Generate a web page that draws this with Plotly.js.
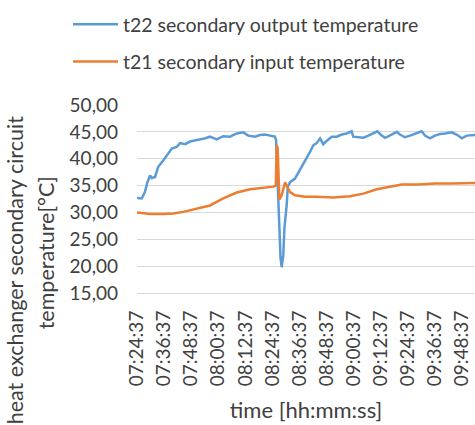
<!DOCTYPE html>
<html>
<head>
<meta charset="utf-8">
<script src="https://cdn.plot.ly/plotly-3.0.1.min.js"></script>
<style>
  html, body { margin: 0; padding: 0; background: #ffffff; overflow: hidden; }
  #chart { width: 475px; height: 425px; }
</style>
</head>
<body>
<div id="chart"></div>
<script>
// ---- data ----
const day = '2024-01-01 ';

const tickLabels = ['07:24:37','07:36:37','07:48:37','08:00:37','08:12:37','08:24:37','08:36:37',
                    '08:48:37','09:00:37','09:12:37','09:24:37','09:36:37','09:48:37'];

const t22Name = 't22 secondary output temperature';
const t22Times = ['07:24:37','07:26:43','07:28:07','07:29:13','07:30:25','07:31:07','07:32:37','07:34:01',
  '07:36:19','07:38:31','07:40:01','07:42:13','07:43:43','07:45:55','07:48:07','07:51:07','07:54:01',
  '07:56:55','07:59:55','08:02:49','08:05:49','08:08:49','08:11:43','08:13:55','08:16:55','08:19:07',
  '08:21:19','08:23:31','08:25:43','08:26:13','08:26:55','08:27:31','08:28:13','08:28:43','08:29:25',
  '08:29:55','08:30:13','08:30:31','08:30:55','08:31:25','08:32:25','08:34:37','08:36:49','08:39:01',
  '08:41:19','08:42:43','08:44:13','08:45:43','08:47:07','08:48:37','08:50:55','08:53:07','08:55:19',
  '08:57:31','08:59:43','09:00:25','09:02:37','09:04:55','09:07:07','09:09:19','09:11:07','09:13:01',
  '09:14:31','09:17:25','09:19:43','09:21:07','09:23:19','09:25:37','09:28:31','09:30:43','09:32:13',
  '09:34:25','09:36:37','09:38:49','09:41:07','09:44:01','09:46:13','09:48:31','09:50:43','09:53:37',
  '09:56:07'];
const t22Values = [32.7,32.6,33.8,35.6,36.9,36.4,36.6,38.5,
  39.7,41.0,41.9,42.2,42.9,42.7,43.2,43.5,43.7,
  44.1,43.6,44.2,44.1,44.7,44.9,44.3,44.1,44.4,
  44.5,44.3,44.1,43.5,35.0,27.0,21.5,19.8,22.0,
  27.0,28.2,29.5,31.3,34.8,35.6,36.3,37.9,39.7,
  41.3,42.5,42.9,43.8,42.7,43.3,44.1,44.1,44.5,
  44.7,45.1,44.1,44.0,43.9,44.3,44.7,45.1,44.3,
  43.9,44.5,45.0,44.5,44.0,44.3,44.7,45.1,44.3,
  43.8,44.3,44.6,44.7,44.9,44.5,43.8,44.3,44.4,
  44.5];

const t21Name = 't21 secondary input temperature';
const t21Times = ['07:24:37','07:30:25','07:36:19','07:40:43','07:45:07','07:51:07','07:56:55','08:02:49',
  '08:08:49','08:14:43','08:20:37','08:25:01','08:26:07','08:26:19','08:26:31','08:26:55','08:27:13',
  '08:27:43','08:28:43','08:29:55','08:30:13','08:30:55','08:32:25','08:34:37','08:39:01','08:44:13',
  '08:51:37','08:59:01','09:04:55','09:10:49','09:16:43','09:21:55','09:29:13','09:36:37','09:44:01',
  '09:53:37','09:56:07'];
const t21Values = [30.0,29.7,29.7,29.8,30.1,30.7,31.3,32.6,
  33.7,34.3,34.6,34.8,35.0,38.0,42.5,42.0,36.0,
  32.4,33.2,35.4,35.6,35.0,33.8,33.2,32.9,32.9,
  32.8,33.0,33.5,34.3,34.8,35.2,35.2,35.4,35.4,
  35.6,35.5];

const yTickValues = [15, 20, 25, 30, 35, 40, 45, 50];
const xTitle = 'time [hh:mm:ss]';
const yTitleLines = ['heat exchanger secondary circuit', 'temperature[°C]'];

// ---- chart ----
const FONT = 'Lato, "Liberation Sans", sans-serif';
const TXT = '#404040';
const toDate = t => day + t;

const traces = [
  { x: t22Times.map(toDate), y: t22Values, name: t22Name, type: 'scatter', mode: 'lines',
    line: { color: '#5B9BD5', width: 2.5 }, legendgroup: 'a' },
  { x: t21Times.map(toDate), y: t21Values, name: t21Name, type: 'scatter', mode: 'lines',
    line: { color: '#ED7D31', width: 2.5 }, legendgroup: 'b' }
];

const W = 475, H = 425;
const plotL = 137, plotT = 105, plotB = 292.6;

const layout = {
  width: W, height: H,
  margin: { l: plotL, r: 0, t: plotT, b: H - plotB, pad: 0, autoexpand: false },
  paper_bgcolor: '#ffffff', plot_bgcolor: '#ffffff',
  separators: ',.',
  font: { family: FONT, size: 19, color: TXT },
  showlegend: true,
  legend: {
    xref: 'container', yref: 'container',
    x: 68 / W, y: 1 - 5 / H, xanchor: 'left', yanchor: 'top',
    bgcolor: 'rgba(0,0,0,0)', borderwidth: 0,
    font: { family: FONT, size: 19.5, color: TXT },
    tracegroupgap: 9, itemwidth: 45
  },
  xaxis: {
    type: 'date',
    range: [toDate('07:24:37'), toDate('09:54:22')],
    tickvals: tickLabels.map(toDate),
    ticktext: tickLabels,
    tickangle: -90,
    ticks: '',
    showgrid: false,
    showline: true, linecolor: '#D9D9D9', linewidth: 1,
    zeroline: false,
    tickfont: { family: FONT, size: 19, color: TXT },
    ticklabelstandoff: 9,
    title: { text: xTitle, font: { family: FONT, size: 22, color: TXT }, standoff: 17 }
  },
  yaxis: {
    range: [15, 50],
    tickvals: yTickValues,
    tickformat: '.2f',
    ticks: '',
    showgrid: true, gridcolor: '#D9D9D9', gridwidth: 1,
    showline: false, zeroline: false,
    tickfont: { family: FONT, size: 19, color: TXT },
    ticklabelstandoff: 18
  },
  annotations: [
    { xref: 'paper', yref: 'paper', x: 0, y: 0, xanchor: 'left', yanchor: 'middle',
      text: yTitleLines[0], textangle: -90, showarrow: false,
      font: { family: FONT, size: 21.5, color: TXT } },
    { xref: 'paper', yref: 'paper', x: 0, y: 0, xanchor: 'left', yanchor: 'middle',
      text: yTitleLines[1], textangle: -90, showarrow: false,
      font: { family: FONT, size: 21.5, color: TXT } }
  ]
};

// place the two y-title lines in pixel terms
const plotW = W - plotL, plotH = plotB - plotT;
function px2paperX(px) { return (px - plotL) / plotW; }
function px2paperY(py) { return (plotB - py) / plotH; }
layout.annotations[0].x = px2paperX(0);  layout.annotations[0].y = px2paperY(270);
layout.annotations[1].x = px2paperX(31); layout.annotations[1].y = px2paperY(253);

Plotly.newPlot('chart', traces, layout, { displayModeBar: false, staticPlot: true });
</script>
</body>
</html>
